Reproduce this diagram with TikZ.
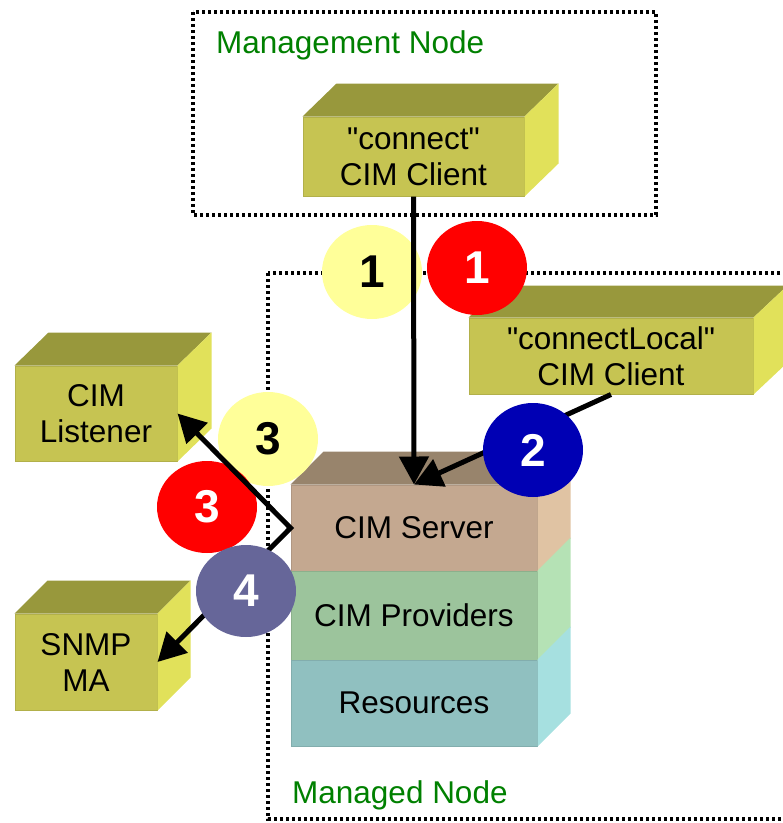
\documentclass[tikz,border=0pt]{standalone}
\usepackage{fontspec}
\setmainfont{Liberation Sans}
\usetikzlibrary{arrows.meta,shapes.geometric}

% box faces
\definecolor{olivefront}{RGB}{198,196,82}
\definecolor{olivetop}{RGB}{152,152,60}
\definecolor{oliveside}{RGB}{225,225,90}
\definecolor{serverfront}{RGB}{196,168,144}
\definecolor{servertop}{RGB}{152,132,108}
\definecolor{serverside}{RGB}{224,195,163}
\definecolor{provfront}{RGB}{156,196,156}
\definecolor{provside}{RGB}{181,226,181}
\definecolor{resfront}{RGB}{144,192,192}
\definecolor{resside}{RGB}{166,224,224}
% step markers and labels
\definecolor{markyellow}{RGB}{255,255,153}
\definecolor{markred}{RGB}{255,0,0}
\definecolor{markblue}{RGB}{0,0,180}
\definecolor{markpurple}{RGB}{102,102,153}
\definecolor{regiongreen}{RGB}{0,128,0}

% top face of a block, built on the front-face node #1, depth (#2,#3)
\newcommand\cubetop[4]{%
  \fill[#4] (#1.north west) -- ++(#2,-#3) -- ([shift={(#2,-#3)}]#1.north east)
    -- (#1.north east) -- cycle;}
% right-hand face of a block
\newcommand\cubeside[4]{%
  \fill[#4] (#1.north east) -- ++(#2,-#3) -- ([shift={(#2,-#3)}]#1.south east)
    -- (#1.south east) -- cycle;}

\begin{document}
\begin{tikzpicture}[x=1pt,y=-1pt,
  font=\fontsize{31.5}{36}\selectfont,
  frontface/.style={rectangle,inner sep=0pt,align=center,line width=1pt},
  marker/.style={ellipse,minimum width=100pt,minimum height=94pt,inner sep=0pt,
    font=\fontsize{46}{46}\selectfont\bfseries},
  link/.style={line width=5pt,line join=miter,-{Triangle[length=28pt,width=29pt]}},
  region/.style={dash pattern=on 3pt off 3pt,line width=3.5pt},
  regionlabel/.style={anchor=base west,inner sep=0pt,text=regiongreen}]

\useasboundingbox (0,0) rectangle (783,823);

% dotted node regions
\draw[region] (193,12) rectangle (656,215);
\draw[region] (268,273) rectangle (800,819);
\node[regionlabel] (mgmtlabel) at (216,53) {Management Node};
\node[regionlabel] (managedlabel) at (292,803) {Managed Node};

% clients, listener and SNMP MA
\node[frontface,fill=olivefront,draw=olivefront!90!black,minimum width=221pt,minimum height=79pt]
  (conn) at (413.5,156.5) {\textquotedbl connect\textquotedbl\\CIM Client};
\cubetop{conn}{34}{33}{olivetop}
\cubeside{conn}{34}{33}{oliveside}

\node[frontface,fill=olivefront,draw=olivefront!90!black,minimum width=284pt,minimum height=76pt]
  (local) at (611,356) {\textquotedbl connectLocal\textquotedbl\\CIM Client};
\cubetop{local}{34}{32}{olivetop}
\cubeside{local}{34}{32}{oliveside}

\node[frontface,fill=olivefront,draw=olivefront!90!black,minimum width=162pt,minimum height=95pt]
  (listener) at (96,413.5) {CIM\\Listener};
\cubetop{listener}{34}{33}{olivetop}
\cubeside{listener}{34}{33}{oliveside}

\node[frontface,fill=olivefront,draw=olivefront!90!black,minimum width=142pt,minimum height=96pt]
  (snmp) at (86,662) {SNMP\\MA};
\cubetop{snmp}{33}{33}{olivetop}
\cubeside{snmp}{33}{33}{oliveside}

% managed node stack
\node[frontface,fill=serverfront,draw=serverfront!90!black,minimum width=246pt,minimum height=86pt]
  (server) at (414,528) {CIM Server};
\node[frontface,fill=provfront,draw=provfront!90!black,minimum width=246pt,minimum height=89pt]
  (providers) at (414,615.5) {CIM Providers};
\node[frontface,fill=resfront,draw=resfront!90!black,minimum width=246pt,minimum height=86pt]
  (resources) at (414,703) {Resources};
\cubetop{server}{33}{33}{servertop}
\cubeside{server}{33}{33}{serverside}
\cubeside{providers}{33}{33}{provside}
\cubeside{resources}{33}{33}{resside}

% step markers behind the connectors
\node[marker,fill=markyellow] (s1a) at (372,272) {1};
\node[marker,fill=markred,text=white] (s1b) at (477,268) {1};
\node[marker,fill=markyellow] (s3a) at (268,439) {3};
\node[marker,fill=markred,text=white,minimum height=92pt] (s3b) at (207,507) {3};

% connectors
\draw[link] (conn.south) -- (server.north);
\draw[link] (local.south) -- (server.north);
\draw[line width=5pt,line join=miter,
  {Triangle[length=28pt,width=29pt]}-{Triangle[length=28pt,width=29pt]}]
  (listener.east) -- (server.west) -- (snmp.east);

% step markers above the connectors
\node[marker,fill=markblue,text=white] (s2) at (533,450) {2};
\node[marker,fill=markpurple,text=white,minimum height=92pt] (s4) at (246,591) {4};

\end{tikzpicture}
\end{document}
